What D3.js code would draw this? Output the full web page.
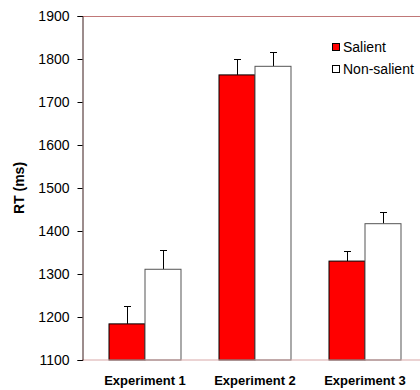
<!DOCTYPE html>
<html>
<head>
<meta charset="utf-8">
<script src="https://cdn.jsdelivr.net/npm/d3@7"></script>
<style>
  body { margin: 0; background: #fff; }
  text { font-family: "Liberation Sans", Arial, sans-serif; }
</style>
</head>
<body>
<div id="chart"></div>
<script>
// Chart data
var experiments = ["Experiment 1", "Experiment 2", "Experiment 3"];
var seriesNames = ["Salient", "Non-salient"];
var salientRT = [1184, 1763, 1330];
var salientErr = [42, 37, 24];
var nonSalientRT = [1311, 1783, 1417];
var nonSalientErr = [45, 33, 27];
var yTicks = [1100, 1200, 1300, 1400, 1500, 1600, 1700, 1800, 1900];

var seriesColors = { "Salient": "#ff0000", "Non-salient": "#ffffff" };

var properties = { width: 420, height: 390 };

// Appending the chart SVG
var svg = d3.select("#chart")
    .append("svg")
    .attr("width", properties.width)
    .attr("height", properties.height);

// Scales
var yScale = d3.scaleLinear().domain([1100, 1900]).range([360, 16]);

var xScale0 = d3.scaleBand()
    .domain(experiments)
    .range([90, 420])
    .paddingInner(0.3455)
    .paddingOuter(0.17275);

var xScale1 = d3.scaleBand()
    .domain(seriesNames)
    .range([0, xScale0.bandwidth()]);

// Building rows from the arrays
var rows = experiments.map(function (e, i) {
    return {
        name: e,
        values: [
            { key: "Salient", value: salientRT[i], err: salientErr[i] },
            { key: "Non-salient", value: nonSalientRT[i], err: nonSalientErr[i] }
        ]
    };
});

// Plot frame line at the top
svg.append("line")
    .attr("x1", 82).attr("x2", 420)
    .attr("y1", yScale(1900) + 0.5).attr("y2", yScale(1900) + 0.5)
    .attr("stroke", "#c07878").attr("stroke-width", 1);

// Groups of bars
var groups = svg.append("g")
    .selectAll(".bar")
    .data(rows)
    .enter()
    .append("g")
    .attr("class", "bar")
    .attr("transform", function (d) { return "translate(" + xScale0(d.name) + ",0)"; });

// Error bars (upper only)
groups.selectAll(".err")
    .data(function (d) { return d.values; })
    .enter()
    .append("path")
    .attr("class", "err")
    .attr("fill", "none")
    .attr("stroke", "#000")
    .attr("stroke-width", 1)
    .attr("d", function (d) {
        var cx = Math.round(xScale1(d.key) + xScale1.bandwidth() / 2) + 0.5;
        var top = Math.round(yScale(d.value + d.err)) + 0.5;
        var bottom = yScale(d.value);
        return "M" + cx + "," + bottom + "V" + top + "M" + (cx - 3.5) + "," + top + "H" + (cx + 3.5);
    });

groups.selectAll(".rt-rect")
    .data(function (d) { return d.values; })
    .enter()
    .append("rect")
    .attr("class", "rt-rect")
    .attr("x", function (d) { return xScale1(d.key); })
    .attr("width", xScale1.bandwidth())
    .attr("y", function (d) { return yScale(d.value); })
    .attr("height", function (d) { return yScale(1100) - yScale(d.value); })
    .attr("fill", function (d) { return seriesColors[d.key]; })
    .attr("stroke", function (d) { return d.key === "Salient" ? "#000" : "#555"; })
    .attr("stroke-width", 1);

// Bottom baseline
svg.append("line")
    .attr("x1", 82).attr("x2", 420)
    .attr("y1", yScale(1100)).attr("y2", yScale(1100))
    .attr("stroke", "#d8a8a8").attr("stroke-width", 1);

// Y axis
var yAxis = svg.append("g")
    .attr("transform", "translate(82.5,0)")
    .call(d3.axisLeft(yScale).tickValues(yTicks).tickSize(5).tickPadding(8).tickFormat(d3.format("d")));
yAxis.select(".domain").attr("stroke", "#3a1a1a");
yAxis.selectAll(".tick line").attr("stroke", "#000");
yAxis.selectAll("text")
    .attr("font-size", 14)
    .attr("fill", "#000")
    .style("font-family", "'Liberation Sans', Arial, sans-serif");

// Y axis title
svg.append("text")
    .attr("transform", "translate(19," + 188 + ") rotate(-90)")
    .attr("text-anchor", "middle")
    .attr("dy", "0.35em")
    .attr("font-size", 14)
    .attr("font-weight", "bold")
    .text("RT (ms)");

// X labels
svg.append("g")
    .selectAll("text")
    .data(experiments)
    .enter()
    .append("text")
    .attr("x", function (d) { return xScale0(d) + xScale0.bandwidth() / 2; })
    .attr("y", 385)
    .attr("text-anchor", "middle")
    .attr("font-size", 13)
    .attr("font-weight", "bold")
    .text(function (d) { return d; });

// Legend
var legend = svg.append("g")
    .selectAll(".legend-item")
    .data(seriesNames)
    .enter()
    .append("g")
    .attr("class", "legend-item")
    .attr("transform", function (d, i) { return "translate(332," + (43 + i * 22) + ")"; });

legend.append("rect")
    .attr("x", 0.5).attr("y", 0.5)
    .attr("width", 7).attr("height", 7)
    .attr("fill", function (d) { return seriesColors[d]; })
    .attr("stroke", "#000");

legend.append("text")
    .attr("x", 11)
    .attr("y", 4)
    .attr("dy", "0.35em")
    .attr("font-size", 14)
    .text(function (d) { return d; });
</script>
</body>
</html>
